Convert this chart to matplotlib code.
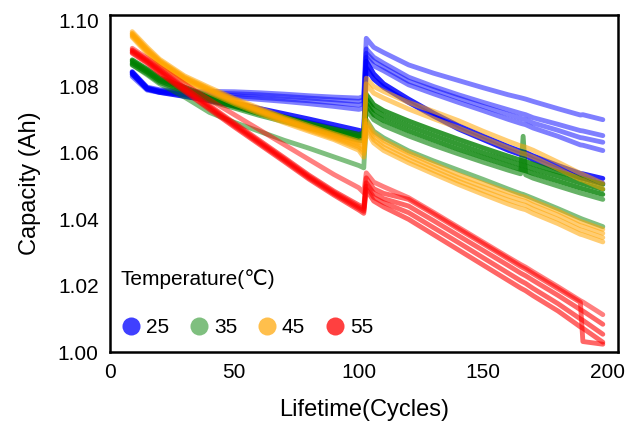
import matplotlib
matplotlib.use('Agg')
import matplotlib.pyplot as plt
from matplotlib.lines import Line2D

plt.rcParams['font.family'] = ['Liberation Sans', 'DejaVu Sans']

cycles = [9, 15, 20, 30, 40, 50, 60, 70, 80, 90, 100, 102, 103, 106, 110,
          120, 130, 140, 150, 160, 165, 166, 167, 170, 180, 189, 190, 198]

# 25 C cells
cap_25 = [
    [1.0845, 1.0798, 1.0790, 1.0786, 1.0785, 1.0784, 1.0781, 1.0777, 1.0772, 1.0768, 1.0765, 1.0770, 1.0945, 1.0918,
     1.0902, 1.0865, 1.0840, 1.0818, 1.0796, 1.0775, 1.0766, 1.0764, 1.0762, 1.0755, 1.0733, 1.0714, 1.0715, 1.0700],
    [1.0842, 1.0796, 1.0788, 1.0782, 1.0780, 1.0778, 1.0775, 1.0770, 1.0765, 1.0760, 1.0755, 1.0759, 1.0913, 1.0888,
     1.0870, 1.0828, 1.0800, 1.0775, 1.0752, 1.0730, 1.0719, 1.0717, 1.0715, 1.0706, 1.0686, 1.0667, 1.0666, 1.0652],
    [1.0836, 1.0792, 1.0785, 1.0779, 1.0776, 1.0772, 1.0767, 1.0762, 1.0757, 1.0751, 1.0744, 1.0748, 1.0900, 1.0876,
     1.0858, 1.0816, 1.0790, 1.0765, 1.0740, 1.0716, 1.0704, 1.0702, 1.0700, 1.0690, 1.0668, 1.0646, 1.0645, 1.0632],
    [1.0830, 1.0789, 1.0782, 1.0776, 1.0772, 1.0767, 1.0761, 1.0755, 1.0748, 1.0740, 1.0731, 1.0735, 1.0888, 1.0862,
     1.0847, 1.0805, 1.0778, 1.0752, 1.0727, 1.0701, 1.0689, 1.0687, 1.0685, 1.0675, 1.0650, 1.0624, 1.0623, 1.0607],
    [1.0843, 1.0795, 1.0785, 1.0775, 1.0764, 1.0750, 1.0734, 1.0718, 1.0702, 1.0685, 1.0668, 1.0664, 1.0876, 1.0838,
     1.0808, 1.0762, 1.0720, 1.0682, 1.0650, 1.0619, 1.0605, 1.0603, 1.0601, 1.0591, 1.0562, 1.0538, 1.0537, 1.0523],
    [1.0838, 1.0792, 1.0782, 1.0770, 1.0757, 1.0742, 1.0726, 1.0709, 1.0692, 1.0674, 1.0655, 1.0650, 1.0856, 1.0822,
     1.0797, 1.0752, 1.0711, 1.0672, 1.0640, 1.0608, 1.0595, 1.0593, 1.0591, 1.0580, 1.0551, 1.0525, 1.0524, 1.0508],
]

# 35 C cells
cap_35 = [
    [1.0880, 1.0852, 1.0826, 1.0798, 1.0770, 1.0749, 1.0727, 1.0708, 1.0689, 1.0672, 1.0656, 1.0660, 1.0776, 1.0745,
     1.0727, 1.0696, 1.0668, 1.0641, 1.0615, 1.0590, 1.0578, 1.0576, 1.0574, 1.0566, 1.0543, 1.0524, 1.0522, 1.0505],
    [1.0876, 1.0848, 1.0822, 1.0794, 1.0766, 1.0745, 1.0723, 1.0704, 1.0685, 1.0667, 1.0650, 1.0652, 1.0762, 1.0730,
     1.0712, 1.0681, 1.0653, 1.0626, 1.0600, 1.0576, 1.0564, 1.0562, 1.0560, 1.0552, 1.0530, 1.0509, 1.0507, 1.0490],
    [1.0870, 1.0843, 1.0817, 1.0789, 1.0761, 1.0740, 1.0718, 1.0699, 1.0680, 1.0662, 1.0645, 1.0644, 1.0747, 1.0715,
     1.0697, 1.0666, 1.0638, 1.0611, 1.0586, 1.0562, 1.0550, 1.0548, 1.0546, 1.0538, 1.0515, 1.0494, 1.0492, 1.0475],
    [1.0865, 1.0838, 1.0812, 1.0784, 1.0756, 1.0735, 1.0713, 1.0694, 1.0675, 1.0657, 1.0638, 1.0636, 1.0732, 1.0700,
     1.0682, 1.0651, 1.0623, 1.0597, 1.0572, 1.0548, 1.0537, 1.0650, 1.0534, 1.0524, 1.0500, 1.0479, 1.0477, 1.0460],
    [1.0865, 1.0835, 1.0808, 1.0768, 1.0722, 1.0692, 1.0665, 1.0638, 1.0614, 1.0588, 1.0562, 1.0555, 1.0700, 1.0665,
     1.0645, 1.0606, 1.0576, 1.0548, 1.0520, 1.0491, 1.0477, 1.0475, 1.0472, 1.0463, 1.0432, 1.0403, 1.0400, 1.0378],
]

# 45 C cells
cap_45 = [
    [1.0965, 1.0918, 1.0882, 1.0832, 1.0797, 1.0764, 1.0735, 1.0707, 1.0682, 1.0658, 1.0635, 1.0640, 1.0825, 1.0800,
     1.0785, 1.0752, 1.0725, 1.0697, 1.0665, 1.0635, 1.0621, 1.0619, 1.0617, 1.0608, 1.0572, 1.0538, 1.0535, 1.0508],
    [1.0960, 1.0913, 1.0878, 1.0828, 1.0793, 1.0760, 1.0731, 1.0703, 1.0678, 1.0654, 1.0630, 1.0632, 1.0808, 1.0780,
     1.0765, 1.0732, 1.0703, 1.0675, 1.0645, 1.0615, 1.0600, 1.0598, 1.0596, 1.0587, 1.0552, 1.0520, 1.0518, 1.0492],
    [1.0958, 1.0910, 1.0876, 1.0826, 1.0791, 1.0758, 1.0729, 1.0701, 1.0676, 1.0652, 1.0625, 1.0617, 1.0698, 1.0660,
     1.0637, 1.0600, 1.0567, 1.0535, 1.0508, 1.0482, 1.0470, 1.0468, 1.0466, 1.0455, 1.0425, 1.0393, 1.0391, 1.0370],
    [1.0955, 1.0907, 1.0873, 1.0823, 1.0788, 1.0755, 1.0726, 1.0698, 1.0672, 1.0648, 1.0620, 1.0607, 1.0688, 1.0650,
     1.0627, 1.0590, 1.0557, 1.0525, 1.0497, 1.0470, 1.0458, 1.0456, 1.0454, 1.0443, 1.0413, 1.0381, 1.0379, 1.0358],
    [1.0952, 1.0904, 1.0870, 1.0820, 1.0785, 1.0752, 1.0723, 1.0695, 1.0669, 1.0644, 1.0615, 1.0597, 1.0678, 1.0640,
     1.0617, 1.0580, 1.0547, 1.0515, 1.0486, 1.0458, 1.0446, 1.0444, 1.0442, 1.0431, 1.0400, 1.0368, 1.0366, 1.0345],
    [1.0948, 1.0900, 1.0866, 1.0816, 1.0781, 1.0748, 1.0719, 1.0691, 1.0665, 1.0640, 1.0608, 1.0587, 1.0668, 1.0630,
     1.0607, 1.0570, 1.0537, 1.0505, 1.0475, 1.0446, 1.0433, 1.0431, 1.0429, 1.0418, 1.0387, 1.0355, 1.0353, 1.0332],
]

# 55 C cells
cap_55 = [
    [1.0915, 1.0885, 1.0858, 1.0808, 1.0760, 1.0715, 1.0670, 1.0625, 1.0580, 1.0535, 1.0495, 1.0480, 1.0540, 1.0512,
     1.0498, 1.0465, 1.0421, 1.0376, 1.0331, 1.0286, 1.0264, 1.0260, 1.0256, 1.0242, 1.0197, 1.0155, 1.0151, 1.0113],
    [1.0910, 1.0880, 1.0852, 1.0797, 1.0743, 1.0690, 1.0638, 1.0586, 1.0533, 1.0485, 1.0443, 1.0436, 1.0525, 1.0492,
     1.0478, 1.0460, 1.0416, 1.0371, 1.0326, 1.0281, 1.0258, 1.0254, 1.0250, 1.0236, 1.0191, 1.0150, 1.0032, 1.0024],
    [1.0907, 1.0877, 1.0848, 1.0793, 1.0739, 1.0686, 1.0634, 1.0582, 1.0529, 1.0481, 1.0438, 1.0430, 1.0510, 1.0478,
     1.0462, 1.0440, 1.0396, 1.0351, 1.0306, 1.0261, 1.0238, 1.0234, 1.0230, 1.0216, 1.0171, 1.0128, 1.0124, 1.0084],
    [1.0903, 1.0873, 1.0844, 1.0789, 1.0735, 1.0682, 1.0630, 1.0578, 1.0525, 1.0477, 1.0433, 1.0424, 1.0500, 1.0466,
     1.0450, 1.0420, 1.0375, 1.0330, 1.0284, 1.0238, 1.0215, 1.0211, 1.0207, 1.0192, 1.0146, 1.0100, 1.0096, 1.0054],
    [1.0900, 1.0870, 1.0840, 1.0785, 1.0731, 1.0678, 1.0626, 1.0574, 1.0521, 1.0473, 1.0428, 1.0418, 1.0490, 1.0455,
     1.0437, 1.0400, 1.0354, 1.0308, 1.0262, 1.0216, 1.0193, 1.0189, 1.0185, 1.0170, 1.0124, 1.0076, 1.0072, 1.0030],
]

temps = ['25', '35', '45', '55']
groups = [cap_25, cap_35, cap_45, cap_55]
colors = ['#0000ff', '#008000', '#ffa500', '#ff0000']
# transparency of each cell line (darker ones overlap in the original)
alphas = [[0.5, 0.5, 0.5, 0.5, 0.85, 0.85],
          [0.8, 0.8, 0.8, 0.6, 0.5],
          [0.55, 0.55, 0.55, 0.55, 0.55, 0.55],
          [0.5, 0.6, 0.6, 0.6, 0.6]]
legend_alpha = [0.75, 0.5, 0.7, 0.75]

fig = plt.figure(figsize=(6.31, 4.30), dpi=100)
ax = fig.add_axes([0.174, 0.181, 0.805, 0.784])

for k in range(len(groups)):
    for n, cap in enumerate(groups[k]):
        ax.plot(cycles, cap, color=colors[k], alpha=alphas[k][n], lw=3.5,
                solid_capstyle='round', solid_joinstyle='round')

ax.set_xlim(0, 204)
ax.set_ylim(1.0, 1.1015)
ax.set_xticks([0, 50, 100, 150, 200])
ax.set_yticks([1.00, 1.02, 1.04, 1.06, 1.08, 1.10])
ax.yaxis.set_major_formatter(plt.FormatStrFormatter('%.2f'))
ax.tick_params(length=0, labelsize=15, pad=8)
for sp in ax.spines.values():
    sp.set_linewidth(1.8)

ax.set_xlabel('Lifetime(Cycles)', fontsize=17, labelpad=12)
ax.set_ylabel('Capacity (Ah)', fontsize=17, labelpad=12)

# legend with round markers
handles = [Line2D([], [], marker='o', ls='', markersize=13, color=colors[k],
                  alpha=legend_alpha[k], markeredgewidth=0) for k in range(4)]
leg = ax.legend(handles, temps, title='Temperature(℃)', ncol=4,
                loc='lower left', bbox_to_anchor=(0.022, 0.045), frameon=False,
                fontsize=15, title_fontsize=15, handlelength=1.0,
                handletextpad=0.2, columnspacing=0.95, labelspacing=1.4,
                borderpad=0.0, borderaxespad=0.0, alignment='left')

fig.savefig('out.png', dpi=100)
